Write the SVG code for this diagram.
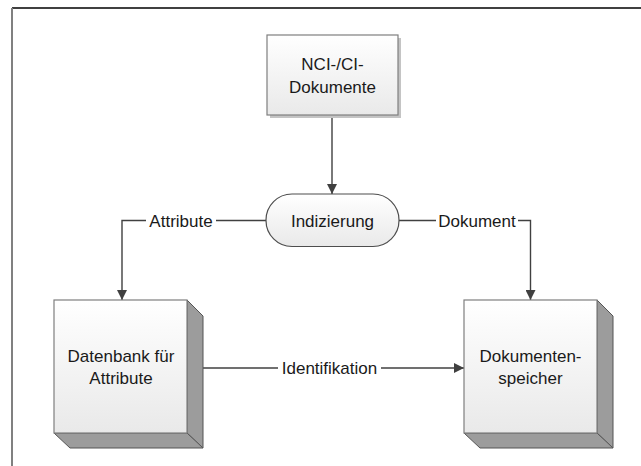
<svg xmlns="http://www.w3.org/2000/svg" width="641" height="466" viewBox="0 0 641 466">
  <defs>
    <linearGradient id="faceFill" x1="0" y1="0" x2="0" y2="1">
      <stop offset="0" stop-color="#ffffff"/>
      <stop offset="1" stop-color="#e9e9e9"/>
    </linearGradient>
    <marker id="arrow" viewBox="0 0 10 10" refX="10" refY="5" markerWidth="10" markerHeight="10" markerUnits="userSpaceOnUse" orient="auto">
      <path d="M0,0 L10,5 L0,10 z" fill="#404040"/>
    </marker>
  </defs>
  <style>
    text { font-family: "Liberation Sans", Arial, sans-serif; font-size: 17px; fill: #1a1a1a; text-anchor: middle; }
    .face { fill: url(#faceFill); stroke: #7f7f7f; stroke-width: 1.2; }
    .depth { fill: #9c9c9c; stroke: #555555; stroke-width: 1; stroke-linejoin: round; }
    .shadow { fill: #c4c4c4; }
    .conn { fill: none; stroke: #404040; stroke-width: 1.4; }
    .lblbg { fill: #ffffff; }
  </style>

  <!-- page frame -->
  <line x1="12" y1="8" x2="641" y2="8" stroke="#000000" stroke-width="1.6"/>
  <line x1="12" y1="8" x2="12" y2="466" stroke="#808080" stroke-width="2"/>

  <!-- connectors -->
  <g id="connectors">
    <path class="conn" d="M332,116 L332,194" marker-end="url(#arrow)"/>
    <path class="conn" d="M266,220.5 L122,220.5 L122,300" marker-end="url(#arrow)"/>
    <path class="conn" d="M399,220.5 L530.5,220.5 L530.5,300" marker-end="url(#arrow)"/>
    <path class="conn" d="M192,368 L464,368" marker-end="url(#arrow)"/>
    <rect class="lblbg" x="146" y="210" width="70" height="20"/>
    <text x="181" y="226.5">Attribute</text>
    <rect class="lblbg" x="436" y="210" width="82" height="20"/>
    <text x="477" y="226.5">Dokument</text>
    <rect class="lblbg" x="278" y="358" width="103" height="20"/>
    <text x="329.5" y="374">Identifikation</text>
  </g>

  <!-- source documents -->
  <g id="node-dokumente">
    <rect class="shadow" x="270" y="38" width="131" height="80"/>
    <rect class="face" x="267" y="35" width="131" height="80"/>
    <text x="332.5" y="70">NCI-/CI-</text>
    <text x="332.5" y="93">Dokumente</text>
  </g>

  <!-- indexing step -->
  <g id="node-indizierung">
    <rect x="266" y="194" width="133" height="52.5" rx="26" ry="26" fill="url(#faceFill)" stroke="#4d4d4d" stroke-width="1.2"/>
    <text x="332.5" y="226.5">Indizierung</text>
  </g>

  <!-- attribute database -->
  <g id="node-datenbank">
    <polygon class="depth" points="187,300 203,316 203,448 187,433"/>
    <polygon class="depth" points="54,433 187,433 203,448 70,448"/>
    <rect class="face" x="54" y="300" width="133" height="133"/>
    <text x="121" y="362">Datenbank für</text>
    <text x="121" y="383.5">Attribute</text>
  </g>

  <!-- document store -->
  <g id="node-speicher">
    <polygon class="depth" points="597,300 613,316 613,448 597,433"/>
    <polygon class="depth" points="464,433 597,433 613,448 480,448"/>
    <rect class="face" x="464" y="300" width="133" height="133"/>
    <text x="530.5" y="362">Dokumenten-</text>
    <text x="530.5" y="383.5">speicher</text>
  </g>
</svg>
